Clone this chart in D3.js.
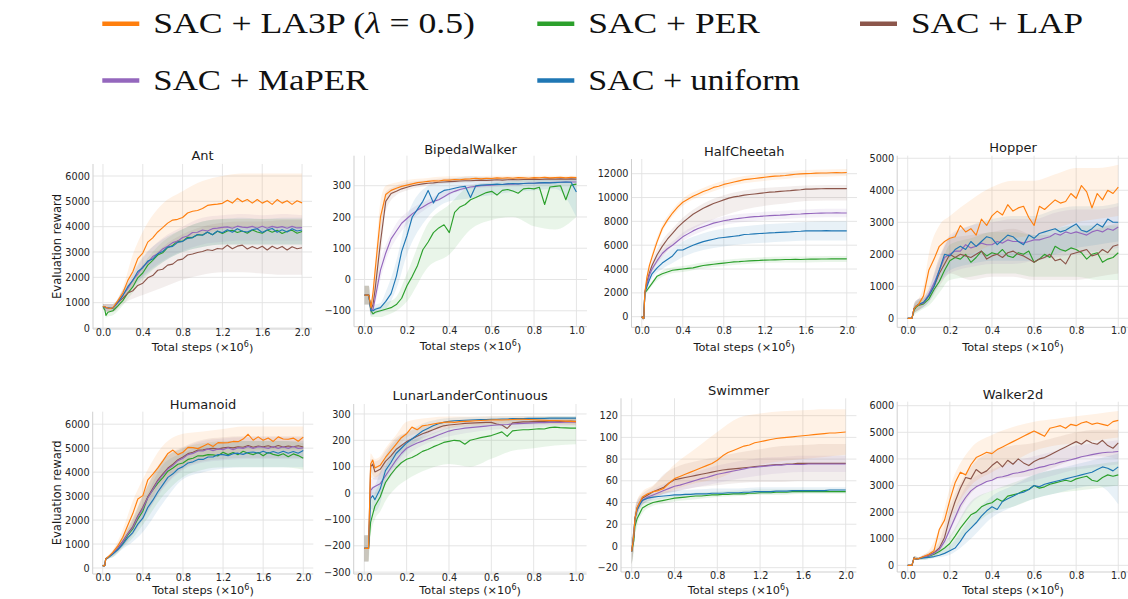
<!DOCTYPE html>
<html>
<head>
<meta charset="utf-8">
<script src="https://cdn.jsdelivr.net/npm/d3@7"></script>
<style>
  body { margin: 0; background: #fff; }
  svg { display: block; }
</style>
</head>
<body>
<svg id="fig" width="1128" height="599"></svg>
<script>
// ---------- evaluation steps (millions) ----------
const STEPS_2M = [0,0.02,0.03,0.05,0.075,0.1,0.15,0.2,0.25,0.3,0.35,0.4,0.45,0.5,0.55,0.6,0.65,0.7,0.75,0.8,0.85,0.9,0.95,1.0,1.05,1.1,1.15,1.2,1.25,1.3,1.35,1.4,1.45,1.5,1.55,1.6,1.65,1.7,1.75,1.8,1.85,1.9,1.95,2.0];
const STEPS_1M = [0,0.01,0.02,0.03,0.04,0.05,0.075,0.1,0.125,0.15,0.175,0.2,0.225,0.25,0.275,0.3,0.325,0.35,0.375,0.4,0.425,0.45,0.475,0.5,0.525,0.55,0.575,0.6,0.625,0.65,0.675,0.7,0.725,0.75,0.775,0.8,0.825,0.85,0.875,0.9,0.925,0.95,0.975,1.0];
const BAND_STEPS_2M = [0,0.02,0.03,0.05,0.1,0.2,0.3,0.4,0.6,0.8,1.0,1.2,1.4,1.6,1.8,2.0];
const BAND_STEPS_1M = [0,0.02,0.03,0.05,0.075,0.1,0.15,0.2,0.3,0.4,0.5,0.6,0.7,0.8,0.9,1.0];

// ---------- methods ----------
const METHOD_KEYS = ["la3p", "per", "lap", "maper", "uniform"];
const METHOD_COLORS = ["#ff7f0e", "#2ca02c", "#8c564b", "#9467bd", "#1f77b4"];
const DRAW_ORDER = ["per", "lap", "maper", "uniform", "la3p"];

// ---------- tick values ----------
const X_TICKS_2M = [0, 0.4, 0.8, 1.2, 1.6, 2.0];
const X_TICKS_1M = [0, 0.2, 0.4, 0.6, 0.8, 1.0];
const Y_TICKS_ANT = [0, 1000, 2000, 3000, 4000, 5000, 6000];
const Y_TICKS_BIPEDAL = [-100, 0, 100, 200, 300];
const Y_TICKS_CHEETAH = [0, 2000, 4000, 6000, 8000, 10000, 12000];
const Y_TICKS_HOPPER = [0, 1000, 2000, 3000, 4000, 5000];
const Y_TICKS_HUMANOID = [0, 1000, 2000, 3000, 4000, 5000, 6000];
const Y_TICKS_LUNAR = [-300, -200, -100, 0, 100, 200, 300];
const Y_TICKS_SWIMMER = [-20, 0, 20, 40, 60, 80, 100, 120];
const Y_TICKS_WALKER = [0, 1000, 2000, 3000, 4000, 5000, 6000];

// ---------- Ant ----------
const ant_la3p = [850,840,820,790,770, 800,1080,1380,1880,2220,2740, 2960,3390,3560,3790,3960,4140, 4260,4290,4360,4540,4610,4640, 4720,4840,4870,4890,4920,5040, 4930,5120,4980,5070,4930,5070, 4930,5020,4880,5070,4930,5020, 4880,5020,4940];
const ant_uniform = [850,830,800,800,780, 780,1020,1280,1630,1880,2230, 2380,2640,2720,2930,3020,3190, 3220,3380,3420,3540,3570,3690, 3660,3790,3680,3830,3760,3880, 3780,3920,3820,3790,3880,3920, 3770,3870,3930,3780,3880,3790, 3920,3830,3870];
const ant_maper = [850,820,800,790,780, 790,990,1300,1560,1900,2130, 2420,2580,2820,2930,3120,3230, 3370,3430,3570,3630,3770,3780, 3870,3830,3920,3940,3970,3990, 3940,4020,3980,3960,4010,3940, 4020,3940,4010,3960,4000,3940, 4010,3950,3960];
const ant_per = [850,700,500,620,650, 680,870,1080,1380,1620,1980, 2170,2480,2670,2880,2970,3180, 3260,3430,3420,3580,3570,3680, 3670,3780,3680,3820,3730,3830, 3860,3770,3830,3740,3870,3790, 3740,3870,3780,3860,3730,3820, 3860,3740,3810];
const ant_lap = [850,830,800,790,780, 790,1010,1180,1380,1470,1680, 1770,1980,2070,2280,2320,2480, 2520,2680,2720,2880,2920,2980, 3020,3090,3060,3140,3120,3270, 3130,3230,3270,3120,3220,3130, 3230,3080,3230,3130,3220,3080, 3210,3130,3170];
const ant_la3p_lo = [750,700,650,650,650,1100,1700,2300,3000,3400,3700,3900,4000,4000,4000,4000];
const ant_la3p_hi = [950,950,950,950,950,1600,2900,3800,4900,5400,5800,6000,6100,6100,6100,6100];
const ant_uniform_lo = [750,700,650,650,650,1100,1600,2000,2600,3000,3200,3300,3300,3300,3300,3300];
const ant_uniform_hi = [950,950,950,950,950,1500,2200,2800,3500,3900,4200,4300,4350,4300,4350,4350];
const ant_maper_lo = [750,700,650,650,650,1100,1650,2050,2650,3050,3300,3400,3450,3450,3450,3450];
const ant_maper_hi = [950,950,950,950,950,1450,2100,2750,3550,4000,4350,4450,4500,4450,4500,4450];
const ant_per_lo = [750,600,400,450,500,900,1400,1900,2600,3000,3200,3300,3300,3300,3300,3300];
const ant_per_hi = [950,850,700,800,850,1300,1900,2500,3400,3900,4200,4300,4300,4300,4300,4300];
const ant_lap_lo = [750,700,650,650,650,950,1150,1300,1600,1900,2100,2200,2200,2150,2100,2100];
const ant_lap_hi = [950,950,950,950,950,1500,1900,2400,3200,3700,4000,4150,4200,4200,4250,4250];

// ---------- BipedalWalker ----------
const bip_la3p = [-50,-50,-50,-90,-40,30, 200,272,285,292,298, 302,306,310,312,314,316, 315,318,318,320,319,321, 322,324,322,324,323,325, 324,325,324,326,325,324, 326,325,327,325,326,327, 325,327,326];
const bip_lap = [-50,-50,-50,-95,-80,-30, 120,250,275,282,290, 295,300,303,306,308,309, 311,312,313,314,315,316, 316,317,318,317,318,319, 318,319,320,319,320,320, 321,320,321,322,321,322, 321,322,321];
const bip_maper = [-50,-50,-50,-100,-95,-60, 30,85,130,155,180, 195,210,222,232,242,250, 255,265,275,282,288,292, 296,298,300,301,302,303, 304,305,305,306,307,308, 308,309,310,310,311,311, 312,312,312];
const bip_uniform = [-50,-50,-50,-100,-100,-95, -90,-70,-45,10,90, 140,200,225,250,285,245, 275,285,288,292,296,298, 262,300,302,303,304,305, 304,306,307,306,307,308, 308,309,310,309,310,311, 312,311,280];
const bip_per = [-50,-50,-50,-100,-110,-105, -100,-95,-90,-80,-60, -20,10,45,95,120,150, 165,175,150,215,232,240, 255,262,270,278,282,270, 285,288,283,276,290,292, 290,295,240,296,298,300, 255,302,305];
const bip_la3p_lo = [-80,-80,-110,-20,150,250,280,295,310,315,318,320,320,320,320,320];
const bip_la3p_hi = [-20,-20,-80,60,250,300,310,318,325,330,330,332,332,332,332,332];
const bip_lap_lo = [-80,-80,-110,-60,60,220,270,285,300,308,310,312,312,314,314,314];
const bip_lap_hi = [-20,-20,-80,0,180,280,300,310,318,325,325,328,328,328,328,328];
const bip_maper_lo = [-80,-80,-115,-80,0,60,130,175,230,270,290,295,298,300,302,302];
const bip_maper_hi = [-20,-20,-85,-40,60,110,180,215,255,290,305,310,312,316,318,320];
const bip_uniform_lo = [-80,-80,-115,-110,-105,-95,-30,80,200,250,260,270,280,285,290,200];
const bip_uniform_hi = [-20,-20,-85,-80,-75,-40,60,200,300,320,330,325,325,325,325,325];
const bip_per_lo = [-80,-80,-120,-120,-120,-115,-100,-70,40,80,160,190,200,170,160,200];
const bip_per_hi = [-20,-20,-90,-90,-85,-75,-55,20,180,240,300,310,315,320,320,320];

// ---------- HalfCheetah ----------
const hc_la3p = [0,-150,2000,3300,4300,5000,6300,7400,8100,8700,9200,9600,9850,10100,10300,10500,10650,10850,10950,11100,11200,11300,11400,11500,11550,11600,11650,11700,11750,11800,11820,11850,11900,11950,11980,12000,12020,12050,12060,12060,12080,12100,12080,12100];
const hc_lap = [0,-150,2000,2900,3700,4300,5200,5900,6500,7000,7500,7900,8250,8600,8850,9100,9300,9500,9650,9800,9950,10050,10120,10200,10250,10300,10350,10400,10450,10480,10520,10550,10580,10620,10650,10700,10700,10720,10740,10750,10750,10760,10750,10750];
const hc_maper = [0,-150,2000,2700,3500,4000,4700,5300,5700,6000,6350,6700,6950,7200,7400,7550,7700,7850,7950,8050,8120,8200,8250,8300,8350,8400,8420,8450,8480,8500,8520,8550,8580,8600,8620,8650,8660,8680,8690,8700,8700,8710,8700,8700];
const hc_uniform = [0,-150,2000,2500,3100,3600,4100,4500,4800,5100,5600,5600,5800,6000,6150,6300,6400,6500,6600,6650,6700,6750,6800,6900,6920,6950,6980,7000,7030,7050,7080,7100,7120,7150,7170,7200,7200,7210,7200,7220,7200,7210,7200,7200];
const hc_per = [0,-150,2000,2200,2500,2800,3400,3600,3750,3900,3950,4000,4050,4100,4200,4300,4350,4400,4450,4500,4550,4600,4620,4650,4680,4700,4720,4750,4760,4770,4780,4800,4800,4810,4800,4820,4830,4830,4840,4840,4850,4850,4850,4850];
const hc_la3p_lo = [-100,-300,1800,3100,4700,7100,8400,9300,10200,10800,11200,11400,11550,11700,11750,11800];
const hc_la3p_hi = [100,0,2200,3500,5300,7700,9000,9900,10800,11400,11800,12000,12150,12300,12350,12400];
const hc_lap_lo = [-100,-300,1800,2700,3800,5000,6000,6800,7800,8500,9000,9300,9500,9700,9750,9750];
const hc_lap_hi = [100,0,2200,3100,4700,6400,7400,8300,9500,10200,10600,10800,10900,11000,11050,11050];
const hc_maper_lo = [-100,-300,1800,2500,3700,5000,5700,6350,7200,7700,7950,8100,8200,8300,8350,8350];
const hc_maper_hi = [100,0,2200,2900,4300,5600,6300,7050,7900,8400,8650,8800,8900,9000,9050,9050];
const hc_uniform_lo = [-100,-300,1800,2300,3200,4000,4500,5000,5600,5900,6100,6200,6300,6400,6400,6400];
const hc_uniform_hi = [100,0,2200,2700,4000,5000,5700,6300,7000,7400,7600,7750,7850,7950,8000,8000];
const hc_per_lo = [-100,-300,1800,2000,2600,3350,3650,3750,4050,4250,4400,4500,4550,4550,4600,4600];
const hc_per_hi = [100,0,2200,2400,3000,3850,4150,4250,4550,4750,4900,5000,5050,5050,5100,5100];

// ---------- Hopper ----------
const hop_la3p = [0,0,0,300,380,420, 700,1500,1850,2250,2400, 2500,2550,2900,2700,2800,2600, 3100,2900,3200,3350,3230,3550, 3350,3450,3500,3150,2900,3500, 3400,3550,3700,3600,3650,3900, 3750,4150,3950,3450,3900,3700, 4000,3900,4100];
const hop_uniform = [0,0,0,300,380,430, 500,700,1000,1500,2000, 1950,2150,2250,2150,2400,2250, 2400,2550,2500,2300,2450,2600, 2550,2400,2300,2600,2500,2650, 2700,2750,2800,2700,2750,2850, 2950,2750,2700,2800,2950,2850, 3100,3000,3000];
const hop_maper = [0,0,0,300,380,430, 480,750,1100,1500,1900, 2000,2100,2100,2300,2200,2250, 2350,2300,2300,2400,2350,2450, 2400,2400,2350,2400,2450,2450, 2500,2550,2650,2600,2700,2650, 2700,2650,2600,2700,2750,2700, 2800,2750,2850];
const hop_per = [0,0,0,250,350,400, 450,600,900,1150,1500, 1800,1900,1850,2000,1750,1900, 2100,1950,2050,2000,2150,1950, 1900,2050,2000,2100,1750,1850, 2000,1900,2250,2150,2100,2200, 2150,2050,1850,2000,2050,1750, 1850,1900,2050];
const hop_lap = [0,0,0,300,380,420, 480,700,1000,1400,1700, 2000,1900,2000,1950,1900,2000, 2100,1850,1950,2000,1900,2050, 2100,2000,1950,1850,1750,1850, 1900,2000,1800,1850,1700,2000, 2050,2100,2150,1950,2000,2150, 2050,2250,2300];
const hop_la3p_lo = [0,0,150,250,450,900,1500,1800,2000,2300,2500,2600,2800,3000,3100,3200];
const hop_la3p_hi = [0,0,450,600,1000,2000,2900,3200,3700,4100,4300,4300,4500,4700,4700,4800];
const hop_uniform_lo = [0,0,150,250,350,500,1100,1500,1700,1800,1800,1800,2000,2200,2300,2400];
const hop_uniform_hi = [0,0,450,600,650,900,1900,2500,2900,3100,3200,3200,3400,3500,3500,3600];
const hop_maper_lo = [0,0,150,250,350,550,1100,1400,1600,1700,1700,1800,1900,2000,2100,2200];
const hop_maper_hi = [0,0,450,600,650,950,1900,2600,2900,3000,3100,3100,3300,3400,3400,3500];
const hop_per_lo = [0,0,100,200,300,400,800,1200,1300,1400,1400,1300,1300,1300,1200,1200];
const hop_per_hi = [0,0,400,550,600,800,1500,2300,2500,2700,2700,2600,2800,2900,2900,2900];
const hop_lap_lo = [0,0,150,250,350,500,1000,1400,1200,1300,1300,1200,1200,1200,1300,1400];
const hop_lap_hi = [0,0,450,600,650,900,1800,2500,2600,2700,2800,2600,2600,2700,2800,3000];

// ---------- Humanoid ----------
const hum_la3p = [100,100,380,450,550,650,920,1280,1780,2270,2880,3020,3680,3920,4180,4470,4780,4920,4730,4830,5030,5020,4980,5080,5180,5070,5230,5220,5230,5280,5270,5380,5580,5330,5470,5330,5420,5280,5470,5380,5370,5420,5290,5460];
const hum_maper = [100,100,380,430,520,600,810,1090,1420,1680,2130,2480,2930,3270,3630,3880,4130,4280,4480,4580,4730,4780,4880,4880,4970,4890,4970,4940,5020,4940,5020,4990,5070,4990,5060,5040,4990,5070,4990,5060,4990,5070,4990,5010];
const hum_lap = [100,100,380,430,520,600,830,1110,1440,1730,2170,2530,2970,3330,3670,3930,4170,4330,4520,4630,4770,4830,4920,4930,4970,4990,4960,5010,5040,5010,5060,5040,5110,5040,5090,5060,5100,5040,5110,5050,5090,5060,5100,5050];
const hum_per = [100,100,380,430,520,600,790,1030,1370,1630,2040,2370,2950,3260,3540,3770,4040,4170,4330,4380,4530,4580,4680,4680,4730,4720,4680,4830,4730,4820,4730,4870,4790,4730,4820,4680,4820,4740,4690,4770,4640,4760,4690,4580];
const hum_uniform = [100,100,380,430,500,580,760,990,1270,1480,1830,2080,2530,2830,3180,3480,3780,3930,4130,4230,4380,4430,4530,4530,4630,4630,4730,4730,4690,4770,4790,4740,4820,4840,4790,4870,4790,4860,4790,4870,4790,4860,4790,4900];
const hum_la3p_lo = [50,50,330,400,550,1000,1800,2400,3600,4300,4600,4750,4850,4900,4900,4900];
const hum_la3p_hi = [150,150,430,500,750,1600,2800,3700,5100,5600,5700,5800,5900,5900,5900,5900];
const hum_maper_lo = [50,50,330,380,500,900,1400,2000,3300,4100,4400,4500,4550,4550,4550,4550];
const hum_maper_hi = [150,150,430,480,700,1300,2000,3000,4500,5000,5300,5400,5450,5450,5450,5450];
const hum_lap_lo = [50,50,330,380,500,900,1400,2050,3350,4150,4450,4550,4600,4600,4600,4600];
const hum_lap_hi = [150,150,430,480,700,1350,2100,3050,4550,5050,5350,5450,5500,5500,5500,5500];
const hum_per_lo = [50,50,330,380,450,850,1250,1800,3000,3800,4100,4200,4200,4200,4200,4100];
const hum_per_hi = [150,150,430,480,650,1250,2050,3000,4500,5000,5200,5300,5300,5300,5300,5200];
const hum_uniform_lo = [50,50,330,380,450,800,1100,1500,2700,3700,4000,4150,4200,4200,4200,4200];
const hum_uniform_hi = [150,150,430,480,650,1200,1900,2700,4300,4800,5100,5250,5300,5300,5300,5300];

// ---------- LunarLanderContinuous ----------
const lun_la3p = [-210,-210,-210,110,125,95, 105,135,160,185,210, 225,250,240,255,258,262, 265,268,270,268,271,272, 273,274,275,276,277,278, 277,278,279,280,280,279, 278,277,276,275,275,274, 273,272,271];
const lun_lap = [-210,-210,-210,100,110,80, 90,120,140,165,180, 195,205,215,225,232,240, 248,255,258,260,262,264, 265,266,267,268,268,262, 258,245,266,268,270,270, 271,272,272,273,273,272, 272,273,272];
const lun_uniform = [-210,-210,-210,-20,-10,-25, 15,85,115,150,170, 190,205,220,235,245,255, 263,268,272,274,275,276, 277,278,279,279,280,280, 281,281,282,282,282,283, 283,283,283,284,284,284, 284,284,284];
const lun_maper = [-210,-210,-210,10,20,25, 35,65,95,125,150, 170,180,190,197,205,212, 220,228,235,240,243,246, 248,250,252,254,256,258, 259,260,262,263,264,265, 266,267,267,268,268,268, 269,269,269];
const lun_per = [-210,-210,-210,-110,-80,-50, -15,40,70,95,115, 128,135,145,158,165,175, 183,192,196,200,198,185, 200,205,210,214,218,225, 232,215,236,238,240,240, 242,244,243,248,250,248, 247,246,246];
const lun_la3p_lo = [-260,-260,80,60,70,110,160,210,235,250,258,262,265,265,262,258];
const lun_la3p_hi = [-160,-160,150,130,140,170,220,270,285,290,290,292,292,292,290,288];
const lun_lap_lo = [-260,-260,60,50,50,90,140,170,215,245,252,256,258,260,260,260];
const lun_lap_hi = [-160,-160,130,120,130,160,210,230,255,270,278,280,282,284,284,284];
const lun_uniform_lo = [-260,-260,-60,-70,-40,40,110,160,225,260,268,272,274,275,276,276];
const lun_uniform_hi = [-160,-160,20,30,80,140,200,230,270,285,288,290,291,292,292,292];
const lun_maper_lo = [-260,-260,-20,-10,0,30,90,140,190,215,230,240,245,250,253,253];
const lun_maper_hi = [-160,-160,50,60,80,110,160,200,230,255,265,272,278,282,284,285];
const lun_per_lo = [-260,-260,-160,-100,-70,-30,20,50,90,110,100,130,160,170,180,185];
const lun_per_hi = [-160,-160,-60,0,40,100,160,190,220,250,260,270,280,285,290,290];

// ---------- Swimmer ----------
const swim_la3p = [-5,10,25,35,40,45,48,50,51,53,58,62,64,66,68,70,72,74,76,79,83,86,88,90,92,93,95,96,97,98,99,99.5,100,100.5,101,101.5,102,102.5,103,103.5,104,104,104.5,105];
const swim_lap = [-5,10,25,35,40,44,47,50,52,54,58,61,62,63,64,65,66,67,68,69,70,70.5,71,71.5,72,72.5,73,73.5,74,74.5,75,75,75.5,75.5,76,76,76,76,76,76,76,76,76,76];
const swim_maper = [-5,10,25,33,38,42,45,47,49,51,53,55,56,57.5,59,60.5,62,63,64.5,66,67,68,69,70,71,72,72.5,73,73.5,74,74.5,74.5,75,75,75,75,75.5,75.5,75.5,75.5,75.5,75.5,75.5,75.5];
const swim_uniform = [-5,10,25,33,38,42,44,45,45.5,46,46.5,47,47,47.5,47.5,48,48,48,48.5,48.5,48.5,49,49,49,49.5,49.5,50,50,50,50,50.5,50.5,50.5,51,51,51,51,51,51,51,51.5,51.5,51.5,51.5];
const swim_per = [-5,5,18,25,30,35,38,40,41,42,43,44,44.5,45,45.5,46,46,46.5,47,47,47.5,47.5,48,48,48,48.5,48.5,49,49,49,49.5,49.5,49.5,50,50,50,50,50,50,50,50,50,50,50];
const swim_la3p_lo = [-17,0,15,28,40,45,48,52,58,62,70,75,78,80,82,84];
const swim_la3p_hi = [8,18,32,42,50,56,65,75,90,105,118,122,124,125,126,126];
const swim_lap_lo = [-17,0,15,28,38,43,48,50,54,56,58,59,59,60,60,60];
const swim_lap_hi = [8,18,32,42,48,55,66,72,78,82,86,89,92,93,94,94];
const swim_maper_lo = [-17,0,15,26,38,44,48,50,54,58,62,65,67,68,68,68];
const swim_maper_hi = [8,18,32,40,46,52,57,61,68,74,78,81,82,83,83,83];
const swim_uniform_lo = [-17,0,15,26,38,42,44,45,46,47,47,48,48,49,49,49];
const swim_uniform_hi = [8,18,32,40,46,48,50,51,52,53,53,54,54,54,54,54];
const swim_per_lo = [-17,-5,8,18,30,37,39,41,43,45,46,47,47,48,48,48];
const swim_per_hi = [8,15,28,32,40,43,45,47,49,50,51,52,52,52,52,52];

// ---------- Walker2d ----------
const walk_la3p = [0,0,0,280,240,250, 330,420,550,1350,1700, 2450,3100,3500,3400,3780,4050, 4150,4250,4200,4350,4450,4550, 4650,4750,4850,4950,5050,4950, 4850,5150,5200,5250,5150,5300, 5250,5350,5400,5300,5350,5300, 5250,5400,5450];
const walk_lap = [0,0,0,280,240,250, 320,380,480,650,1050, 1800,2400,2900,3300,3250,3600, 3450,3550,3750,3900,3700,3950, 3800,4000,3850,3750,3900,4000, 4050,4150,4250,4350,4450,4550, 4650,4550,4700,4600,4550,4700, 4500,4400,4600];
const walk_maper = [0,0,0,280,240,250, 310,360,450,600,900, 1350,1800,2250,2550,2800,2950, 3050,3150,3200,3300,3330,3380, 3450,3480,3520,3580,3620,3680, 3720,3780,3820,3880,3920,3970, 4020,4080,4120,4160,4200,4230, 4250,4260,4280];
const walk_per = [0,0,0,280,240,250, 300,340,420,520,650, 820,1100,1400,1650,1900,2000, 2200,2300,2350,2500,2400,2600, 2650,2700,2800,2850,3000,2900, 2950,3050,3100,3150,3200,3150, 3250,3300,3350,3200,3150,3300, 3400,3350,3400];
const walk_uniform = [0,0,0,280,240,250, 280,300,330,380,450, 550,650,900,1200,1400,1600, 1850,2050,2200,2100,2400,2500, 2600,2700,2750,2850,3000,2950, 3050,3100,3150,3200,3250,3300, 3350,3400,3450,3500,3600,3700, 3650,3550,3700];
const walk_la3p_lo = [0,0,200,200,250,300,700,1700,3000,3500,3900,4300,4500,4600,4700,4800];
const walk_la3p_hi = [0,0,350,300,400,550,1400,2900,4400,4900,5200,5400,5500,5600,5700,5800];
const walk_lap_lo = [0,0,200,200,250,280,500,1300,2700,3200,3300,3400,3700,4000,4100,4000];
const walk_lap_hi = [0,0,350,300,400,500,900,2200,3700,4300,4500,4600,4800,5000,5100,5100];
const walk_maper_lo = [0,0,200,200,250,280,450,1000,2300,2800,3000,3200,3400,3600,3700,3800];
const walk_maper_hi = [0,0,350,300,400,450,750,1700,3200,3600,3900,4100,4300,4500,4600,4700];
const walk_per_lo = [0,0,200,200,200,250,350,550,1400,2000,2200,2500,2700,2800,2900,3000];
const walk_per_hi = [0,0,350,300,350,400,650,1100,2400,2800,3100,3400,3600,3700,3800,3900];
const walk_uniform_lo = [0,0,200,200,200,230,300,400,1000,1800,2200,2500,2700,2900,3000,2300];
const walk_uniform_hi = [0,0,350,300,350,380,550,750,1800,2600,3000,3400,3600,3800,4000,4200];

// ---------- legend labels ----------
const LEGEND_LABELS = {
  la3p: ["SAC + LA3P (", "λ", " = 0.5)"],
  per: ["SAC + PER"],
  lap: ["SAC + LAP"],
  maper: ["SAC + MaPER"],
  uniform: ["SAC + uniform"]
};

// ---------- assemble per-environment series ----------
function pack(main, lo, hi) { return { main, lo, hi }; }
const RESULTS = {
  Ant: { la3p: pack(ant_la3p, ant_la3p_lo, ant_la3p_hi), per: pack(ant_per, ant_per_lo, ant_per_hi), lap: pack(ant_lap, ant_lap_lo, ant_lap_hi), maper: pack(ant_maper, ant_maper_lo, ant_maper_hi), uniform: pack(ant_uniform, ant_uniform_lo, ant_uniform_hi) },
  BipedalWalker: { la3p: pack(bip_la3p, bip_la3p_lo, bip_la3p_hi), per: pack(bip_per, bip_per_lo, bip_per_hi), lap: pack(bip_lap, bip_lap_lo, bip_lap_hi), maper: pack(bip_maper, bip_maper_lo, bip_maper_hi), uniform: pack(bip_uniform, bip_uniform_lo, bip_uniform_hi) },
  HalfCheetah: { la3p: pack(hc_la3p, hc_la3p_lo, hc_la3p_hi), per: pack(hc_per, hc_per_lo, hc_per_hi), lap: pack(hc_lap, hc_lap_lo, hc_lap_hi), maper: pack(hc_maper, hc_maper_lo, hc_maper_hi), uniform: pack(hc_uniform, hc_uniform_lo, hc_uniform_hi) },
  Hopper: { la3p: pack(hop_la3p, hop_la3p_lo, hop_la3p_hi), per: pack(hop_per, hop_per_lo, hop_per_hi), lap: pack(hop_lap, hop_lap_lo, hop_lap_hi), maper: pack(hop_maper, hop_maper_lo, hop_maper_hi), uniform: pack(hop_uniform, hop_uniform_lo, hop_uniform_hi) },
  Humanoid: { la3p: pack(hum_la3p, hum_la3p_lo, hum_la3p_hi), per: pack(hum_per, hum_per_lo, hum_per_hi), lap: pack(hum_lap, hum_lap_lo, hum_lap_hi), maper: pack(hum_maper, hum_maper_lo, hum_maper_hi), uniform: pack(hum_uniform, hum_uniform_lo, hum_uniform_hi) },
  LunarLanderContinuous: { la3p: pack(lun_la3p, lun_la3p_lo, lun_la3p_hi), per: pack(lun_per, lun_per_lo, lun_per_hi), lap: pack(lun_lap, lun_lap_lo, lun_lap_hi), maper: pack(lun_maper, lun_maper_lo, lun_maper_hi), uniform: pack(lun_uniform, lun_uniform_lo, lun_uniform_hi) },
  Swimmer: { la3p: pack(swim_la3p, swim_la3p_lo, swim_la3p_hi), per: pack(swim_per, swim_per_lo, swim_per_hi), lap: pack(swim_lap, swim_lap_lo, swim_lap_hi), maper: pack(swim_maper, swim_maper_lo, swim_maper_hi), uniform: pack(swim_uniform, swim_uniform_lo, swim_uniform_hi) },
  Walker2d: { la3p: pack(walk_la3p, walk_la3p_lo, walk_la3p_hi), per: pack(walk_per, walk_per_lo, walk_per_hi), lap: pack(walk_lap, walk_lap_lo, walk_lap_hi), maper: pack(walk_maper, walk_maper_lo, walk_maper_hi), uniform: pack(walk_uniform, walk_uniform_lo, walk_uniform_hi) }
};

// ---------- panel layout: frame = [left, right, top, bottom] in px ----------
const PANELS = [
  { env: "Ant", steps: STEPS_2M, bandSteps: BAND_STEPS_2M, frame: [93, 312, 164, 329], xDomain: [-0.1, 2.1], yDomain: [-40, 6474], xTicks: X_TICKS_2M, yTicks: Y_TICKS_ANT, ylabel: true, titleY: 160, xlabY: 350.5 },
  { env: "BipedalWalker", steps: STEPS_1M, bandSteps: BAND_STEPS_1M, frame: [354, 587, 155.7, 326.7], xDomain: [-0.05, 1.05], yDomain: [-151, 396], xTicks: X_TICKS_1M, yTicks: Y_TICKS_BIPEDAL, ylabel: false, titleY: 153.5, xlabY: 350 },
  { env: "HalfCheetah", steps: STEPS_2M, bandSteps: BAND_STEPS_2M, frame: [631.5, 857, 159, 327.3], xDomain: [-0.1, 2.1], yDomain: [-890, 13233], xTicks: X_TICKS_2M, yTicks: Y_TICKS_CHEETAH, ylabel: false, titleY: 156, xlabY: 350.5 },
  { env: "Hopper", steps: STEPS_1M, bandSteps: BAND_STEPS_1M, frame: [897.2, 1128.8, 155.7, 327.3], xDomain: [-0.05, 1.05], yDomain: [-281, 5081], xTicks: X_TICKS_1M, yTicks: Y_TICKS_HOPPER, ylabel: false, titleY: 152, xlabY: 350.5 },
  { env: "Humanoid", steps: STEPS_2M, bandSteps: BAND_STEPS_2M, frame: [92.7, 313.3, 411.7, 574], xDomain: [-0.1, 2.1], yDomain: [-250, 6521], xTicks: X_TICKS_2M, yTicks: Y_TICKS_HUMANOID, ylabel: true, titleY: 408.5, xlabY: 594 },
  { env: "LunarLanderContinuous", steps: STEPS_1M, bandSteps: BAND_STEPS_1M, frame: [353.7, 586.6, 404, 574], xDomain: [-0.05, 1.05], yDomain: [-307, 337.7], xTicks: X_TICKS_1M, yTicks: Y_TICKS_LUNAR, ylabel: false, titleY: 400, xlabY: 594 },
  { env: "Swimmer", steps: STEPS_2M, bandSteps: BAND_STEPS_2M, frame: [621, 856.4, 398.3, 572], xDomain: [-0.1, 2.1], yDomain: [-24, 136], xTicks: X_TICKS_2M, yTicks: Y_TICKS_SWIMMER, ylabel: false, titleY: 394.5, xlabY: 594 },
  { env: "Walker2d", steps: STEPS_1M, bandSteps: BAND_STEPS_1M, frame: [897.2, 1128.8, 401.7, 572], xDomain: [-0.05, 1.05], yDomain: [-250, 6150], xTicks: X_TICKS_1M, yTicks: Y_TICKS_WALKER, ylabel: false, titleY: 398.8, xlabY: 594 }
];

const svg = d3.select("#fig");
const SANS = "'DejaVu Sans', sans-serif";
const colorOf = k => METHOD_COLORS[METHOD_KEYS.indexOf(k)];

function drawPanel(p) {
  const [L, R, T, B] = p.frame;
  const x = d3.scaleLinear().domain(p.xDomain).range([L, R]);
  const y = d3.scaleLinear().domain(p.yDomain).range([B, T]);
  const g = svg.append("g").attr("class", "panel");

  // grid
  g.append("g").selectAll("line").data(p.xTicks).join("line")
    .attr("x1", d => x(d)).attr("x2", d => x(d)).attr("y1", T).attr("y2", B)
    .attr("stroke", "#e2e2e2").attr("stroke-width", 0.9);
  g.append("g").selectAll("line").data(p.yTicks).join("line")
    .attr("x1", L).attr("x2", R).attr("y1", d => y(d)).attr("y2", d => y(d))
    .attr("stroke", "#e2e2e2").attr("stroke-width", 0.9);

  const res = RESULTS[p.env];

  // shaded spread
  const area = d3.area()
    .x((d, i) => x(p.bandSteps[i]))
    .y0(d => y(d[0])).y1(d => y(d[1]))
    .curve(d3.curveMonotoneX);
  DRAW_ORDER.forEach(k => {
    const s = res[k];
    g.append("path").datum(s.lo.map((v, i) => [v, s.hi[i]]))
      .attr("d", area).attr("fill", colorOf(k)).attr("fill-opacity", 0.1);
  });

  // mean curves
  const line = d3.line().x((d, i) => x(p.steps[i])).y(d => y(d));
  DRAW_ORDER.forEach(k => {
    g.append("path").datum(res[k].main)
      .attr("d", line).attr("fill", "none")
      .attr("stroke", colorOf(k)).attr("stroke-width", 1.15)
      .attr("stroke-linejoin", "round");
  });

  // spines
  g.append("line").attr("x1", L).attr("x2", L).attr("y1", T).attr("y2", B)
    .attr("stroke", "#cfcfcf").attr("stroke-width", 1);
  g.append("line").attr("x1", L).attr("x2", R).attr("y1", B).attr("y2", B)
    .attr("stroke", "#cfcfcf").attr("stroke-width", 1);

  // axes (labels only)
  const ya = g.append("g").attr("transform", `translate(${L},0)`)
    .call(d3.axisLeft(y).tickValues(p.yTicks).tickSize(0).tickPadding(3).tickFormat(d3.format("d")));
  const xa = g.append("g").attr("transform", `translate(0,${B})`)
    .call(d3.axisBottom(x).tickValues(p.xTicks).tickSize(0).tickPadding(0).tickFormat(d3.format(".1f")));
  [ya, xa].forEach(a => {
    a.select(".domain").remove();
    a.selectAll("text").attr("font-family", SANS).attr("font-size", 9.7).attr("fill", "#262626");
  });

  // title
  g.append("text").attr("x", (L + R) / 2).attr("y", p.titleY)
    .attr("text-anchor", "middle").attr("font-family", SANS).attr("font-size", 13)
    .attr("fill", "#1a1a1a").text(p.env);

  // x label
  const xl = g.append("text").attr("x", (L + R) / 2).attr("y", p.xlabY)
    .attr("text-anchor", "middle").attr("font-family", SANS).attr("font-size", 11.3)
    .attr("fill", "#1a1a1a");
  xl.append("tspan").text("Total steps (×10");
  xl.append("tspan").attr("dy", "-0.45em").attr("font-size", 8).text("6");
  xl.append("tspan").attr("dy", "0.45em").text(")");

  if (p.ylabel) {
    g.append("text").attr("transform", `translate(61,${(T + B) / 2}) rotate(-90)`)
      .attr("text-anchor", "middle").attr("font-family", SANS).attr("font-size", 11.6)
      .attr("fill", "#1a1a1a").text("Evaluation reward");
  }
}

PANELS.forEach(drawPanel);

// ---------- legend ----------
const LEGEND_ITEMS = [
  { key: "la3p", tx: 153.3, base: 33.3, width: 321.7 },
  { key: "per", tx: 588.3, base: 33.3, width: 171.7 },
  { key: "lap", tx: 911, base: 33.3, width: 172 },
  { key: "maper", tx: 153.3, base: 90, width: 215 },
  { key: "uniform", tx: 588.3, base: 90, width: 211.7 }
];
const lg = svg.append("g").attr("class", "legend");
LEGEND_ITEMS.forEach(it => {
  lg.append("line").attr("x1", it.tx - 51).attr("x2", it.tx - 14)
    .attr("y1", it.base - 9.5).attr("y2", it.base - 9.5)
    .attr("stroke", colorOf(it.key)).attr("stroke-width", 4.5);
  const t = lg.append("text").attr("x", it.tx).attr("y", it.base)
    .attr("font-family", "'Liberation Serif', 'DejaVu Serif', serif").attr("font-size", 30)
    .attr("fill", "#111")
    .attr("textLength", it.width).attr("lengthAdjust", "spacingAndGlyphs");
  LEGEND_LABELS[it.key].forEach(part => {
    const sp = t.append("tspan").text(part);
    if (part === "λ") sp.attr("font-style", "italic");
  });
});
</script>
</body>
</html>
